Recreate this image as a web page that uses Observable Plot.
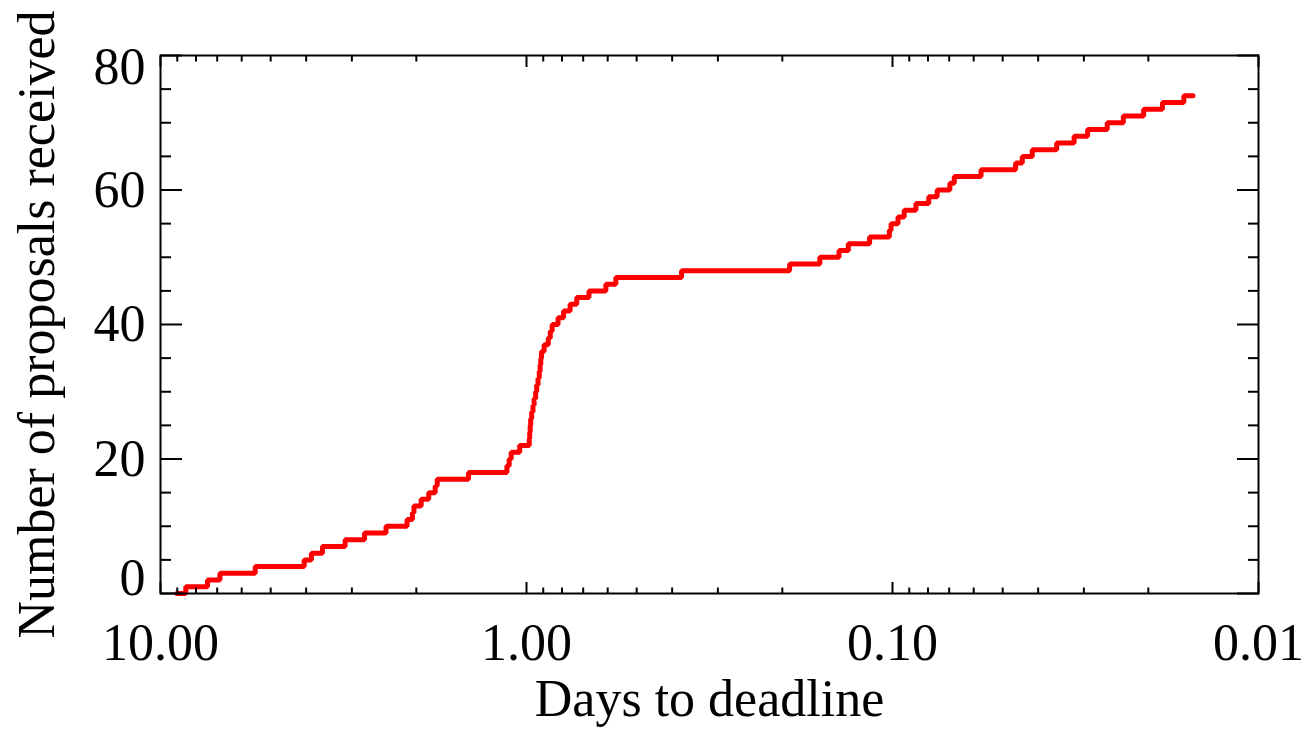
<!DOCTYPE html>
<html><head><meta charset="utf-8">
<script src="https://cdn.jsdelivr.net/npm/d3@7"></script>
<script src="https://cdn.jsdelivr.net/npm/@observablehq/plot@0.6"></script>
<style>html,body{margin:0;padding:0;background:#fff;} #chart svg{display:block;}</style>
</head><body><div id="chart"></div>
<script>
// Days to deadline at which the cumulative count reaches each value
const days = [9.01, 8.53, 7.44, 6.88, 5.51, 4.05, 3.87, 3.61, 3.13, 2.77,
  2.42, 2.12, 2.05, 2.03, 1.94, 1.85, 1.776, 1.754, 1.44, 1.131,
  1.115, 1.101, 1.044, 0.983, 0.980, 0.977, 0.974, 0.968, 0.960, 0.953,
  0.944, 0.938, 0.930, 0.923, 0.918, 0.914, 0.910, 0.895, 0.872, 0.861,
  0.851, 0.820, 0.792, 0.760, 0.729, 0.675, 0.607, 0.570, 0.377, 0.191,
  0.158, 0.140, 0.132, 0.1155, 0.102, 0.1009, 0.0966, 0.0929, 0.0863, 0.0796,
  0.0755, 0.0697, 0.0678, 0.0573, 0.0461, 0.0442, 0.0415, 0.0356, 0.0319, 0.0293,
  0.0259, 0.0234, 0.0206, 0.0183, 0.0160, 0.0151];
const received = [0, 1, 2, 3, 4, 5, 6, 7, 8, 9,
  10, 11, 12, 13, 14, 15, 16, 17, 18, 19,
  20, 21, 22, 23, 24, 25, 26, 27, 28, 29,
  30, 31, 32, 33, 34, 35, 36, 37, 38, 39,
  40, 41, 42, 43, 44, 45, 46, 47, 48, 49,
  50, 51, 52, 53, 54, 55, 56, 57, 58, 59,
  60, 61, 62, 63, 64, 65, 66, 67, 68, 69,
  70, 71, 72, 73, 74, 74];

const xMajorTicks = [10, 1, 0.1, 0.01];
const xMinorTicks = [9, 8, 7, 6, 5, 4, 3, 2,
  0.9, 0.8, 0.7, 0.6, 0.5, 0.4, 0.3, 0.2,
  0.09, 0.08, 0.07, 0.06, 0.05, 0.04, 0.03, 0.02];
const yMajorTicks = [0, 20, 40, 60, 80];
const yMinorTicks = [5, 10, 15, 25, 30, 35, 45, 50, 55, 65, 70, 75];
const xTitle = "Days to deadline";
const yTitle = "Number of proposals received";

const rows = days.map((d, i) => ({days: d, received: received[i]}));
const font = "'Liberation Serif', 'Times New Roman', serif";
const fs = 52;
const tickOnly = {tickFormat: () => "", label: null, strokeWidth: 2, stroke: "#000"};
const labelOpts = {tickSize: 0, fontSize: fs, fontFamily: font, fill: "#000"};

const chart = Plot.plot({
  width: 1305, height: 729,
  marginLeft: 160, marginRight: 47, marginTop: 55, marginBottom: 136,
  style: {fontFamily: font, background: "#fff", color: "#000"},
  x: {type: "log", domain: [10, 0.01]},
  y: {domain: [0, 80]},
  marks: [
    Plot.line(rows, {x: "days", y: "received", curve: "step-after", stroke: "#ff0000", strokeWidth: 5, strokeLinejoin: "miter"}),
    Plot.frame({stroke: "#000", strokeWidth: 2}),
    Plot.axisX(xMajorTicks, {anchor: "bottom", tickSize: -11, ...tickOnly}),
    Plot.axisX(xMinorTicks, {anchor: "bottom", tickSize: -5.5, ...tickOnly}),
    Plot.axisX(xMajorTicks, {anchor: "top", tickSize: -11, ...tickOnly}),
    Plot.axisX(xMinorTicks, {anchor: "top", tickSize: -5.5, ...tickOnly}),
    Plot.axisY(yMajorTicks, {anchor: "left", tickSize: -22, ...tickOnly}),
    Plot.axisY(yMinorTicks, {anchor: "left", tickSize: -11, ...tickOnly}),
    Plot.axisY(yMajorTicks, {anchor: "right", tickSize: -22, ...tickOnly}),
    Plot.axisY(yMinorTicks, {anchor: "right", tickSize: -11, ...tickOnly}),
    Plot.axisX(xMajorTicks, {anchor: "bottom", ...labelOpts, tickPadding: 30, tickFormat: d3.format(".2f"),
      label: xTitle, labelAnchor: "center", labelOffset: 122, labelArrow: "none"}),
    Plot.axisY(yMajorTicks.filter(d => d > 0 && d < 80), {anchor: "left", ...labelOpts, tickPadding: 15,
      label: yTitle, labelAnchor: "center", labelOffset: 143, labelArrow: "none"}),
    Plot.axisY(yMajorTicks.filter(d => d === 80), {anchor: "left", ...labelOpts, tickPadding: 15, dy: 12, label: null}),
    Plot.axisY(yMajorTicks.filter(d => d === 0), {anchor: "left", ...labelOpts, tickPadding: 15, dy: -15, label: null})
  ]
});
document.getElementById("chart").appendChild(chart);
</script>
</body></html>
